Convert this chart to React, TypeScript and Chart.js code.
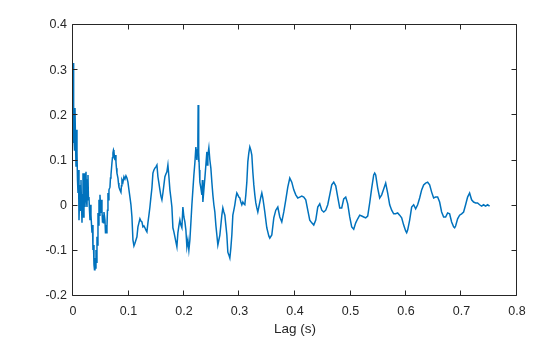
import React, { useEffect, useRef } from "react";
import { Chart, registerables } from "chart.js";

Chart.register(...registerables);

// Lag values (seconds)
const lagS = [
  0, 0.0005, 0.0011, 0.0018, 0.0027, 0.0036, 0.0045, 0.0054, 0.0063, 0.0072,
  0.0081, 0.009, 0.0099, 0.0108, 0.0117, 0.0126, 0.0135, 0.0144, 0.0153, 0.0162,
  0.0171, 0.018, 0.0189, 0.0198, 0.0207, 0.0216, 0.0225, 0.0234, 0.0243, 0.0252,
  0.0261, 0.027, 0.0279, 0.0288, 0.0297, 0.0306, 0.0315, 0.0324, 0.0342, 0.0351,
  0.036, 0.0369, 0.0378, 0.0387, 0.0396, 0.0405, 0.0414, 0.0423, 0.0432, 0.0441,
  0.045, 0.0459, 0.0468, 0.0477, 0.0486, 0.0495, 0.0504, 0.0513, 0.0522, 0.0531,
  0.054, 0.0549, 0.0558, 0.0576, 0.0585, 0.0594, 0.0603, 0.0612, 0.0621, 0.063,
  0.0639, 0.0648, 0.0666, 0.0675, 0.0684, 0.0702, 0.0711, 0.072, 0.0729, 0.0738,
  0.0747, 0.0756, 0.0765, 0.0774, 0.0783, 0.0792, 0.081, 0.0819, 0.0828, 0.0846,
  0.0864, 0.0873, 0.0882, 0.09, 0.0918, 0.0936, 0.0954, 0.0972, 0.099, 0.1008,
  0.1026, 0.1044, 0.1062, 0.108, 0.1098, 0.1116, 0.1134, 0.1152, 0.117, 0.1188,
  0.1206, 0.1224, 0.1242, 0.126, 0.1278, 0.1296, 0.1314, 0.1332, 0.135, 0.1368,
  0.1386, 0.1404, 0.1422, 0.144, 0.1458, 0.1476, 0.1494, 0.1512, 0.153, 0.1548,
  0.1566, 0.1584, 0.1602, 0.162, 0.1638, 0.1656, 0.1674, 0.1692, 0.171, 0.1728,
  0.1746, 0.1764, 0.1782, 0.18, 0.1818, 0.1836, 0.1854, 0.1872, 0.189, 0.1908,
  0.1926, 0.1944, 0.1962, 0.198, 0.1998, 0.2016, 0.2034, 0.2052, 0.207, 0.2088,
  0.2106, 0.2124, 0.2142, 0.216, 0.2178, 0.2196, 0.2214, 0.2232, 0.2241, 0.225,
  0.2255, 0.2261, 0.2268, 0.2277, 0.2286, 0.2304, 0.2322, 0.2331, 0.234, 0.2358,
  0.2376, 0.2394, 0.2412, 0.2421, 0.243, 0.2448, 0.2466, 0.2484, 0.2502, 0.252,
  0.2538, 0.2556, 0.2574, 0.2592, 0.261, 0.2628, 0.2646, 0.2664, 0.2682, 0.27,
  0.2718, 0.2736, 0.2754, 0.2772, 0.279, 0.2808, 0.2826, 0.2844, 0.2862, 0.288,
  0.2898, 0.2916, 0.2934, 0.2952, 0.297, 0.2988, 0.3006, 0.3024, 0.3042, 0.306,
  0.3078, 0.3096, 0.3114, 0.3132, 0.315, 0.3168, 0.3186, 0.3204, 0.3222, 0.324,
  0.3258, 0.3276, 0.3294, 0.3312, 0.333, 0.3348, 0.3366, 0.3384, 0.3402, 0.342,
  0.3438, 0.3456, 0.3474, 0.3492, 0.351, 0.3528, 0.3546, 0.3582, 0.3618, 0.3654,
  0.369, 0.3726, 0.3762, 0.3798, 0.3834, 0.387, 0.3906, 0.3942, 0.3978, 0.4014,
  0.405, 0.4086, 0.4122, 0.4158, 0.4194, 0.423, 0.4266, 0.4302, 0.4338, 0.4374,
  0.441, 0.4446, 0.4482, 0.4518, 0.4554, 0.459, 0.4626, 0.4662, 0.4698, 0.4734,
  0.477, 0.4806, 0.4842, 0.4878, 0.4914, 0.495, 0.4986, 0.5022, 0.5058, 0.5094,
  0.513, 0.5166, 0.5202, 0.5238, 0.5274, 0.531, 0.5346, 0.5382, 0.5418, 0.5436,
  0.5454, 0.549, 0.5526, 0.5562, 0.5598, 0.5634, 0.567, 0.5706, 0.5742, 0.5778,
  0.5814, 0.585, 0.5886, 0.5922, 0.5958, 0.5994, 0.6012, 0.603, 0.6066, 0.6102,
  0.6138, 0.6174, 0.621, 0.6246, 0.6282, 0.6318, 0.6354, 0.639, 0.6426, 0.6462,
  0.6498, 0.6534, 0.657, 0.6606, 0.6642, 0.6678, 0.6714, 0.675, 0.6786, 0.6822,
  0.6858, 0.6876, 0.6894, 0.693, 0.6966, 0.7002, 0.7038, 0.7074, 0.711, 0.7146,
  0.7182, 0.7218, 0.7254, 0.729, 0.7326, 0.7362, 0.7398, 0.7434, 0.747, 0.7506,
];

// Autocorrelation values
const acf = [
  0.316, 0.139, 0.234, 0.168, 0.123, 0.216, 0.145, 0.086, 0.168, 0.117,
  0.057, 0.028, 0.079, -0.032, 0.013, 0.046, -0.01, 0.057, 0.002, -0.038,
  0.024, 0.072, -0.025, 0.013, 0.072, -0.003, 0.035, 0.075, 0.013, -0.003,
  0.057, 0.068, 0.013, 0.019, -0.01, -0.032, 0.002, -0.021, -0.06, -0.043,
  -0.098, -0.087, -0.131, -0.142, -0.116, -0.138, -0.098, -0.125, -0.069, -0.087,
  -0.016, -0.043, 0.013, -0.021, 0.024, 0.002, -0.016, 0.013, -0.01, -0.036,
  -0.021, -0.038, -0.014, -0.032, -0.06, -0.043, -0.06, -0.047, -0.01, 0.028,
  0.013, 0.035, 0.041, 0.061, 0.068, 0.095, 0.106, 0.117, 0.123, 0.119,
  0.108, 0.101, 0.112, 0.097, 0.083, 0.072, 0.061, 0.05, 0.041, 0.035,
  0.03, 0.044, 0.057, 0.052, 0.064, 0.059, 0.066, 0.061, 0.052, 0.035,
  0.019, 0.002, -0.025, -0.076, -0.089, -0.083, -0.076, -0.069, -0.047, -0.038,
  -0.029, -0.034, -0.036, -0.047, -0.045, -0.049, -0.054, -0.058, -0.038, -0.021,
  -0.003, 0.019, 0.039, 0.072, 0.079, 0.083, 0.086, 0.09, 0.064, 0.05,
  0.035, 0.021, 0.013, 0.028, 0.046, 0.064, 0.07, 0.075, 0.09, 0.064,
  0.035, 0.017, -0.003, -0.049, -0.058, -0.069, -0.08, -0.091, -0.06, -0.045,
  -0.032, -0.043, -0.049, -0.003, -0.025, -0.036, -0.054, -0.091, -0.076, -0.098,
  -0.076, -0.038, 0.002, 0.035, 0.068, 0.095, 0.13, 0.101, 0.123, 0.145,
  0.223, 0.097, 0.119, 0.079, 0.052, 0.039, 0.024, 0.057, 0.008, 0.035,
  0.061, 0.09, 0.119, 0.09, 0.112, 0.128, 0.101, 0.083, 0.052, 0.024,
  0.002, -0.014, -0.043, -0.065, -0.087, -0.076, -0.065, -0.043, -0.021, -0.005,
  -0.014, -0.021, -0.043, -0.065, -0.103, -0.109, -0.116, -0.094, -0.065, -0.021,
  -0.01, 0.002, 0.017, 0.028, 0.024, 0.019, 0.017, 0.008, 0.002, 0.008,
  0.004, 0.002, 0.024, 0.052, 0.097, 0.117, 0.13, 0.123, 0.112, 0.075,
  0.046, 0.024, 0.006, -0.005, -0.014, -0.003, 0.008, 0.019, 0.028, 0.017,
  0.002, -0.014, -0.032, -0.049, -0.058, -0.067, -0.072, -0.065, -0.027, -0.01,
  -0.003, -0.025, -0.036, -0.014, 0.013, 0.041, 0.061, 0.052, 0.035, 0.024,
  0.017, 0.019, 0.021, 0.019, 0.013, -0.01, -0.032, -0.038, -0.043, -0.032,
  -0.003, 0.004, -0.01, -0.014, -0.01, 0.002, 0.024, 0.046, 0.052, 0.044,
  0.019, -0.005, -0.005, 0.015, 0.019, 0.004, -0.025, -0.047, -0.052, -0.038,
  -0.029, -0.021, -0.023, -0.025, -0.027, -0.023, 0.006, 0.039, 0.068, 0.072,
  0.068, 0.039, 0.017, 0.024, 0.037, 0.05, 0.028, 0.002, -0.01, -0.018,
  -0.018, -0.016, -0.021, -0.027, -0.043, -0.056, -0.06, -0.054, -0.032, -0.003,
  0.002, -0.007, 0.002, 0.017, 0.035, 0.046, 0.05, 0.052, 0.046, 0.03,
  0.017, 0.019, 0.019, 0.008, -0.014, -0.025, -0.025, -0.016, -0.018, -0.036,
  -0.047, -0.049, -0.045, -0.029, -0.021, -0.018, -0.014, 0.002, 0.019, 0.028,
  0.013, 0.008, 0.006, 0.006, 0.002, -0.001, 0.002, -0.001, 0.002, -0.001,
];

const xTicks = [0, 0.1, 0.2, 0.3, 0.4, 0.5, 0.6, 0.7, 0.8];
const yTicks = [-0.2, -0.1, 0, 0.1, 0.2, 0.3, 0.4];
const xLabel = "Lag (s)";

const fmt = (v: number) => String(Math.round(v * 10) / 10);

export default function App() {
  const ref = useRef<HTMLCanvasElement>(null);

  useEffect(() => {
    document.body.style.margin = "0";
    const canvas = ref.current!;
    const boxPlugin = {
      id: "matlabBox",
      afterDatasetsDraw(chart: any) {
        const { ctx, chartArea: a, scales } = chart;
        const L = Math.round(a.left) - 0.5;
        const R = Math.round(a.right) - 0.5;
        const T = Math.round(a.top) - 0.5;
        const B = Math.round(a.bottom) - 0.5;
        ctx.save();
        ctx.strokeStyle = "#262626";
        ctx.lineWidth = 1;
        ctx.beginPath();
        ctx.rect(L, T, R - L, B - T);
        const tl = 5;
        xTicks.forEach((v) => {
          const p = Math.round(scales.x.getPixelForValue(v)) - 0.5;
          ctx.moveTo(p, B);
          ctx.lineTo(p, B - tl);
          ctx.moveTo(p, T);
          ctx.lineTo(p, T + tl);
        });
        yTicks.forEach((v) => {
          const p = Math.round(scales.y.getPixelForValue(v)) - 0.5;
          ctx.moveTo(L, p);
          ctx.lineTo(L + tl, p);
          ctx.moveTo(R, p);
          ctx.lineTo(R - tl, p);
        });
        ctx.stroke();
        ctx.restore();
      },
    };

    const chart = new Chart(canvas, {
      type: "line",
      data: {
        datasets: [
          {
            data: lagS.map((x, i) => ({ x, y: acf[i] })),
            borderColor: "#0072BD",
            borderWidth: 1.5,
            pointRadius: 0,
            fill: false,
            tension: 0,
          },
        ],
      },
      options: {
        animation: false,
        responsive: false,
        maintainAspectRatio: false,
        layout: { padding: { left: 0, right: 43, top: 25, bottom: 0 } },
        plugins: { legend: { display: false }, tooltip: { enabled: false } },
        scales: {
          x: {
            type: "linear",
            min: 0,
            max: 0.8,
            afterBuildTicks: (s: any) => {
              s.ticks = xTicks.map((v) => ({ value: v }));
            },
            afterFit: (s: any) => {
              s.height = 41;
            },
            grid: { display: false, drawTicks: false },
            border: { display: false },
            ticks: {
              autoSkip: false,
              maxRotation: 0,
              padding: 8,
              color: "#262626",
              font: { family: "'Liberation Sans', Arial, sans-serif", size: 12.5 },
              callback: (v: any) => fmt(Number(v)),
            },
            title: {
              display: true,
              text: xLabel,
              color: "#262626",
              padding: { top: 3, bottom: 0 },
              font: { family: "'Liberation Sans', Arial, sans-serif", size: 13.5 },
            },
          },
          y: {
            type: "linear",
            min: -0.2,
            max: 0.4,
            afterBuildTicks: (s: any) => {
              s.ticks = yTicks.map((v) => ({ value: v }));
            },
            afterFit: (s: any) => {
              s.width = 73;
            },
            grid: { display: false, drawTicks: false },
            border: { display: false },
            ticks: {
              autoSkip: false,
              padding: 6,
              color: "#262626",
              font: { family: "'Liberation Sans', Arial, sans-serif", size: 12.5 },
              callback: (v: any) => fmt(Number(v)),
            },
          },
        },
      },
      plugins: [boxPlugin],
    });
    return () => chart.destroy();
  }, []);

  return (
    <div style={{ position: "fixed", left: 0, top: 0, width: 560, height: 337, background: "#fff" }}>
      <canvas ref={ref} width={560} height={337} style={{ display: "block" }} />
    </div>
  );
}
